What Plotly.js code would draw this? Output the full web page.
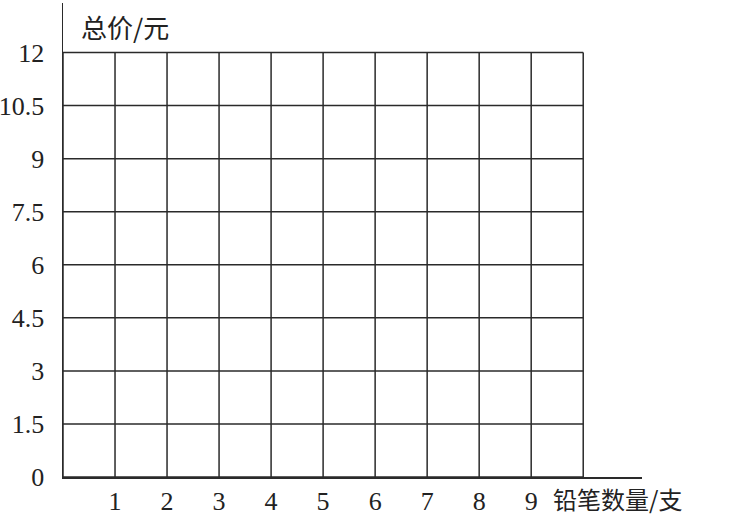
<!DOCTYPE html>
<html>
<head>
<meta charset="utf-8">
<script src="https://cdn.plot.ly/plotly-3.0.1.min.js"></script>
<style>
  body { margin: 0; background: #fff; }
  #chart { width: 729px; height: 515px; }
</style>
</head>
<body>
<div id="chart"></div>
<script>
// grid values
var xTicks = [1, 2, 3, 4, 5, 6, 7, 8, 9];
var xGrid = [0, 1, 2, 3, 4, 5, 6, 7, 8, 9, 10];
var yTicks = [0, 1.5, 3, 4.5, 6, 7.5, 9, 10.5, 12];
var yTickText = ['0', '1.5', '3', '4.5', '6', '7.5', '9', '10.5', '12'];
var xTitle = '铅笔数量/支';
var yTitle = '总价/元';

var lineColor = '#2a2a2a';
var xMax = xGrid[xGrid.length - 1];
var yMax = yTicks[yTicks.length - 1];

var shapes = [];
xGrid.forEach(function(v) {
    shapes.push({
        type: 'line', xref: 'x', yref: 'y',
        x0: v, x1: v, y0: 0, y1: yMax,
        line: {color: lineColor, width: 1.5}
    });
});
yTicks.forEach(function(v) {
    shapes.push({
        type: 'line', xref: 'x', yref: 'y',
        x0: 0, x1: xMax, y0: v, y1: v,
        line: {color: lineColor, width: 1.5}
    });
});

var trace = {
    x: [0],
    y: [0],
    mode: 'markers',
    marker: {opacity: 0},
    hoverinfo: 'skip',
    showlegend: false
};

var numFont = {family: 'Liberation Serif, Times New Roman, serif', size: 26, color: '#222'};
var cjkFont = {family: 'Noto Sans CJK SC, sans-serif', size: 26, color: '#222'};

var layout = {
    width: 729,
    height: 515,
    margin: {l: 63, r: 87, t: 3, b: 38},
    paper_bgcolor: '#fff',
    plot_bgcolor: '#fff',
    showlegend: false,
    xaxis: {
        range: [0, 11.13],
        tickmode: 'array',
        tickvals: xTicks,
        ticktext: xTicks.map(String),
        showgrid: false,
        zeroline: false,
        showline: true,
        linecolor: lineColor,
        linewidth: 1.5,
        ticks: '',
        ticklabelstandoff: 0,
        tickfont: numFont,
        fixedrange: true
    },
    yaxis: {
        range: [0, 13.4],
        tickmode: 'array',
        tickvals: yTicks,
        ticktext: yTickText,
        showgrid: false,
        zeroline: false,
        showline: true,
        linecolor: lineColor,
        linewidth: 1.5,
        ticks: '',
        ticklabelstandoff: 12,
        tickfont: numFont,
        fixedrange: true
    },
    shapes: shapes,
    annotations: [
        {
            text: yTitle, xref: 'paper', yref: 'paper',
            x: 0, y: 1, xanchor: 'left', yanchor: 'top',
            xshift: 16, yshift: -3,
            showarrow: false, font: cjkFont
        },
        {
            text: xTitle, xref: 'x', yref: 'paper',
            x: 9, y: 0, xanchor: 'left', yanchor: 'middle',
            xshift: 20, yshift: -21,
            showarrow: false, font: {family: cjkFont.family, size: 24, color: cjkFont.color}
        }
    ]
};

Plotly.newPlot('chart', [trace], layout, {displayModeBar: false, staticPlot: true});
</script>
</body>
</html>
